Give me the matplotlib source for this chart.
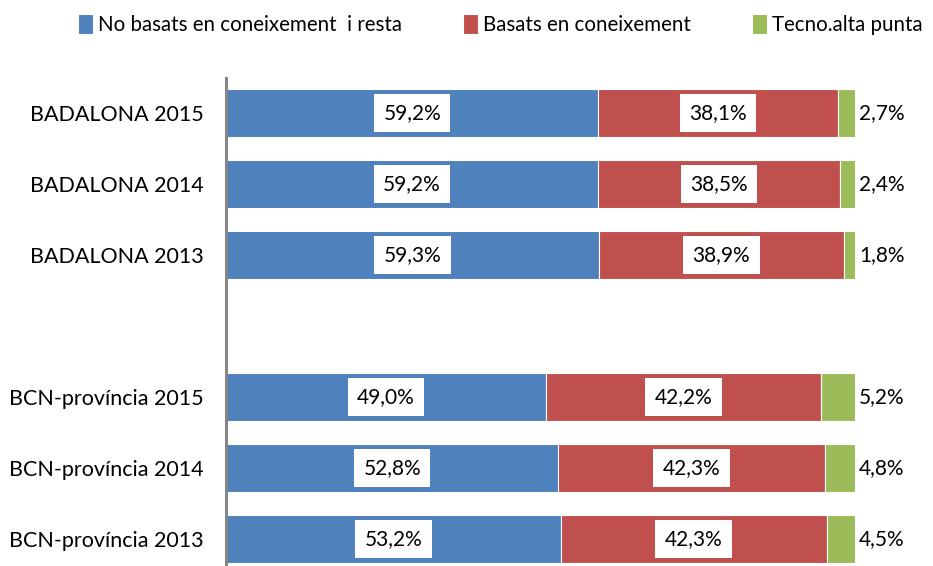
import numpy as np
import matplotlib
matplotlib.use('Agg')
import matplotlib.pyplot as plt

plt.rcParams['font.family'] = ['Lato', 'DejaVu Sans']

categories = ['BADALONA 2015', 'BADALONA 2014', 'BADALONA 2013', '',
              'BCN-província 2015', 'BCN-província 2014', 'BCN-província 2013']
series_names = ['No basats en coneixement  i resta', 'Basats en coneixement', 'Tecno.alta punta']
no_basats = [59.2, 59.2, 59.3, np.nan, 49.0, 52.8, 53.2]
basats = [38.1, 38.5, 38.9, np.nan, 42.2, 42.3, 42.3]
tecno = [2.7, 2.4, 1.8, np.nan, 5.2, 4.8, 4.5]
colors = ['#4F81BD', '#C0504D', '#9BBB59']

values = np.array([no_basats, basats, tecno])
# 100% stacked: every row is scaled to 100
shares = values / np.nansum(values, axis=0) * 100

def fmt(v):
    return '{:.1f}%'.format(v).replace('.', ',')

fig = plt.figure(figsize=(9.33, 5.66), dpi=100)
ax = fig.add_axes([226 / 933, (566 - 574.5) / 566, 629 / 933, 497 / 566])

y = np.arange(len(categories))
left = np.zeros(len(categories))
for i in range(3):
    w = np.nan_to_num(shares[i])
    ax.barh(y, w, left=left, height=0.676, color=colors[i], edgecolor='white',
            linewidth=0.8, label=series_names[i])
    for j in range(len(categories)):
        if np.isnan(values[i, j]):
            continue
        if i < 2:
            ax.text(left[j] + w[j] / 2, y[j], fmt(values[i, j]), ha='center', va='center',
                    fontsize=15, color='black',
                    bbox=dict(boxstyle='square,pad=0.45', facecolor='white', edgecolor='none'))
        else:
            ax.text(100.6, y[j], fmt(values[i, j]), ha='left', va='center',
                    fontsize=15, color='black')
    left = left + w

ax.set_xlim(0, 100)
ax.set_ylim(len(categories) - 0.5, -0.5)
ax.set_yticks(y)
ax.set_yticklabels(categories, fontsize=15.5)
ax.tick_params(axis='y', length=0, pad=16)
ax.set_xticks([])
for s in ['top', 'right', 'bottom']:
    ax.spines[s].set_visible(False)
ax.spines['left'].set_color('#868686')
ax.spines['left'].set_linewidth(2.2)

fig.legend(loc='upper left', bbox_to_anchor=(0.064, 1.008), ncol=3, frameon=False,
           fontsize=14.8, handlelength=0.7, handleheight=1.1, handletextpad=0.25,
           columnspacing=3.0)

fig.savefig('out.png', dpi=100)
